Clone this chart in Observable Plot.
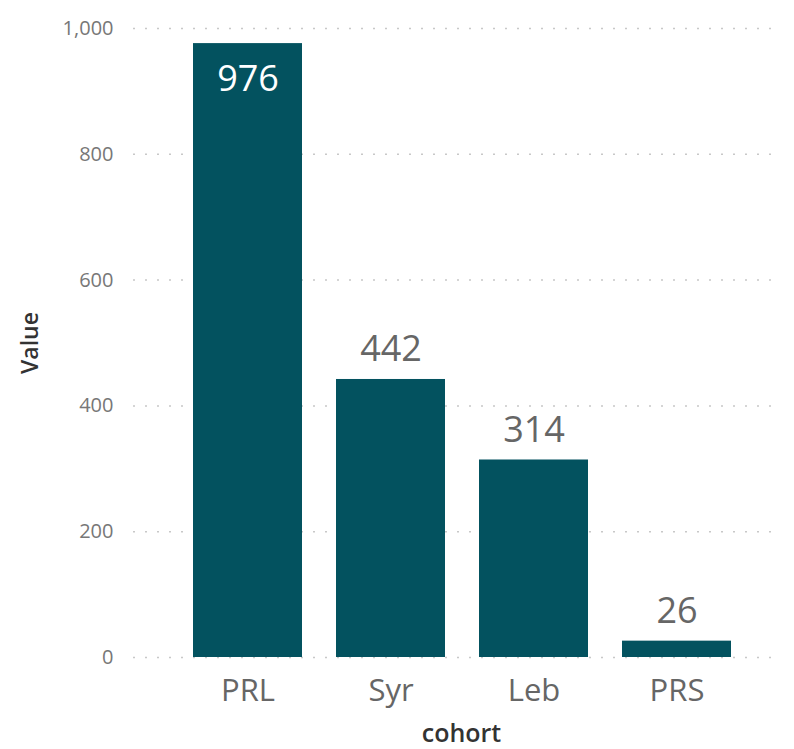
<!DOCTYPE html>
<html>
<head>
<meta charset="utf-8">
<script src="https://cdn.jsdelivr.net/npm/d3@7"></script>
<script src="https://cdn.jsdelivr.net/npm/@observablehq/plot@0.6"></script>
<style>
  html, body { margin: 0; padding: 0; background: #fff; }
  svg { font-family: "Open Sans", "Noto Sans", sans-serif; }
</style>
</head>
<body>
<div id="chart"></div>
<script>
const cohorts = ["PRL", "Syr", "Leb", "PRS"];
const values = [976, 442, 314, 26];
const yTicks = [0, 200, 400, 600, 800, 1000];

const data = cohorts.map((c, i) => ({cohort: c, value: values[i]}));
const inside = data.filter(d => d.value > 900);
const outside = data.filter(d => d.value <= 900);

const chart = Plot.plot({
  width: 794,
  height: 749,
  marginTop: 28,
  marginBottom: 92,
  marginLeft: 133,
  marginRight: 19,
  style: {fontFamily: "'Open Sans', 'Noto Sans', sans-serif", background: "#fff"},
  x: {domain: cohorts, range: [175, 748], paddingInner: 0.24, paddingOuter: 0.12},
  y: {domain: [0, 1000]},
  marks: [
    Plot.gridY(yTicks, {stroke: "#c8c8c8", strokeOpacity: 1, strokeDasharray: "2,10", strokeWidth: 1.5}),
    Plot.axisY(yTicks, {
      tickSize: 0, tickPadding: 20, fontSize: 20, fill: "#777",
      tickFormat: d3.format(","), label: null
    }),
    Plot.text(["Value"], {
      frameAnchor: "left", dx: -103, rotate: -90, textAnchor: "middle", lineAnchor: "middle",
      fontSize: 23, fontWeight: 600, fill: "#333"
    }),
    Plot.axisX({
      tickSize: 0, tickPadding: 21, fontSize: 31, fill: "#666", label: null
    }),
    Plot.text(["cohort"], {
      frameAnchor: "bottom", dx: 7, dy: 76, lineAnchor: "middle",
      fontSize: 25, fontWeight: 600, fill: "#333"
    }),
    Plot.barY(data, {x: "cohort", y: "value", fill: "#03525F"}),
    Plot.text(inside, {x: "cohort", y: "value", text: d => String(d.value), dy: 36, fill: "#fff", fontSize: 36}),
    Plot.text(outside, {x: "cohort", y: "value", text: d => String(d.value), dy: -30, fill: "#666", fontSize: 36})
  ]
});
document.getElementById("chart").appendChild(chart);
</script>
</body>
</html>
